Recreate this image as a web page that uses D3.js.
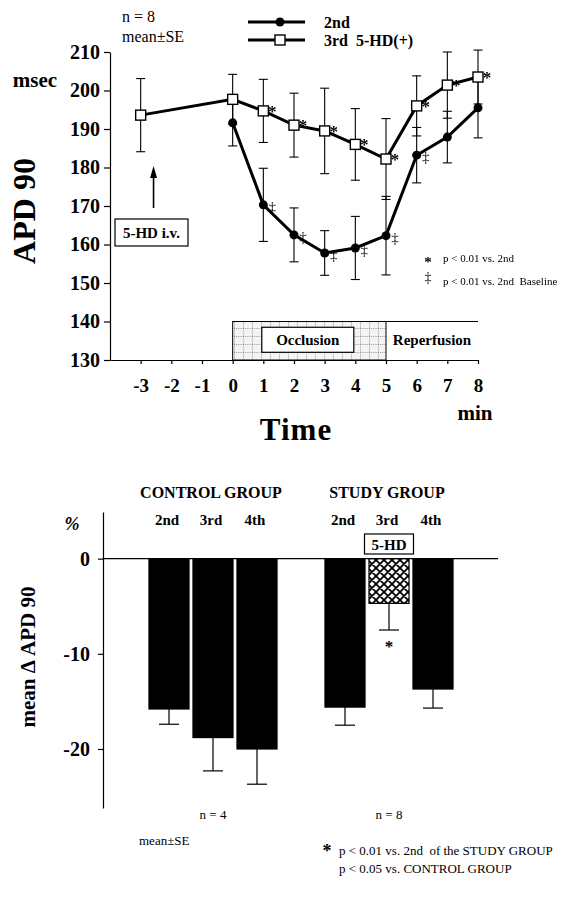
<!DOCTYPE html>
<html>
<head>
<meta charset="utf-8">
<script src="https://cdn.jsdelivr.net/npm/d3@7"></script>
<style>
  html, body { margin: 0; padding: 0; background: #fff; }
  svg { display: block; }
  text { font-family: "Liberation Serif", "Times New Roman", serif; fill: #000; }
  .gray { opacity: 0.999; will-change: transform; }
</style>
</head>
<body>
<div id="chart"></div>
<script>
// ---------------- DATA ----------------
// Top chart: APD 90 (msec) vs time (min)
const xTicks = [-3, -2, -1, 0, 1, 2, 3, 4, 5, 6, 7, 8];
const yTicksTop = [130, 140, 150, 160, 170, 180, 190, 200, 210];
const times2nd = [0, 1, 2, 3, 4, 5, 6, 7, 8];
const apd2nd = [191.6, 170.3, 162.5, 157.8, 159.1, 162.3, 183.2, 187.9, 195.5];
const se2nd = [6.0, 9.5, 7.0, 5.8, 8.2, 10.2, 7.2, 6.7, 7.8];
const sigBaseline2nd = [false, true, true, true, true, true, true, false, false]; // ‡
const times3rd = [-3, 0, 1, 2, 3, 4, 5, 6, 7, 8];
const apd3rd = [193.6, 197.7, 194.7, 191.0, 189.5, 186.0, 182.2, 196.0, 201.4, 203.5];
const se3rd = [9.5, 6.5, 8.2, 8.3, 11.1, 9.3, 10.5, 7.8, 8.6, 7.0];
const sigVs2nd3rd = [false, false, true, true, true, true, true, true, true, true]; // *
const seriesNames = ["2nd", "3rd  5-HD(+)"];

// Bottom chart: mean delta APD 90 (%)
const barKeys = ["c2", "c3", "c4", "gap", "s2", "s3", "s4"];
const barGroupsNames = ["CONTROL GROUP", "STUDY GROUP"];
const barLabels = ["2nd", "3rd", "4th", "", "2nd", "3rd", "4th"];
const barValues = [-15.8, -18.8, -20.0, null, -15.6, -4.7, -13.7];
const barSE = [1.6, 3.5, 3.7, null, 1.9, 2.8, 2.0];
const barHatched = [false, false, false, false, false, true, false];
const yTicksBottom = [0, -10, -20];
const groupN = ["n = 4", "n = 8"];

// ---------------- DRAW ----------------
const W = 571, H = 904;
const svg = d3.select("#chart").append("svg").attr("width", W).attr("height", H);

const defs = svg.append("defs");
const pg = defs.append("pattern").attr("id", "dotgrid").attr("patternUnits", "userSpaceOnUse")
  .attr("width", 9).attr("height", 8);
pg.append("rect").attr("width", 9).attr("height", 8).attr("fill", "#f4f4f4");
pg.append("path").attr("d", "M0,0.5 H9 M0.5,0 V8").attr("stroke", "#777")
  .attr("stroke-width", 0.8).attr("stroke-dasharray", "1,1.2");
const ph = defs.append("pattern").attr("id", "xhatch").attr("patternUnits", "userSpaceOnUse")
  .attr("width", 8).attr("height", 8);
ph.append("rect").attr("width", 8).attr("height", 8).attr("fill", "#fff");
ph.append("path")
  .attr("d", "M-2,2 L2,-2 M0,8 L8,0 M6,10 L10,6 M-2,6 L2,10 M0,0 L8,8 M6,-2 L10,2")
  .attr("stroke", "#000").attr("stroke-width", 1.8);

// ===== TOP CHART =====
const x = d3.scaleLinear().domain([-4, 8]).range([110, 478]);
const y = d3.scaleLinear().domain([130, 210]).range([360, 52]);

svg.append("rect").attr("x", x(0)).attr("y", y(140)).attr("width", x(5) - x(0)).attr("height", y(130) - y(140))
  .attr("fill", "url(#dotgrid)").attr("stroke", "#000").attr("stroke-width", 1);
svg.append("line").attr("x1", x(5)).attr("x2", x(8)).attr("y1", y(140)).attr("y2", y(140))
  .attr("stroke", "#000").attr("stroke-width", 1.2);
svg.append("rect").attr("x", x(0.95)).attr("y", y(138.5)).attr("width", x(3.95) - x(0.95)).attr("height", y(132) - y(138.5))
  .attr("fill", "#fff").attr("stroke", "#000").attr("stroke-width", 1.2);
svg.append("text").attr("x", x(2.45)).attr("y", y(135.2)).attr("text-anchor", "middle")
  .attr("dominant-baseline", "central").attr("font-weight", "bold").attr("font-size", 15).text("Occlusion");
svg.append("text").attr("x", x(6.5)).attr("y", y(135.2)).attr("text-anchor", "middle")
  .attr("dominant-baseline", "central").attr("font-weight", "bold").attr("font-size", 15).text("Reperfusion");

const yAxTop = svg.append("g").attr("transform", `translate(${x(-4)},0)`)
  .call(d3.axisLeft(y).tickValues(yTicksTop).tickSize(6).tickSizeOuter(0).tickPadding(4).tickFormat(d3.format("d")));
yAxTop.selectAll("text").attr("font-size", 20).attr("font-weight", "bold")
  .attr("font-family", "Liberation Serif, serif").attr("fill", "#000");
yAxTop.selectAll("line,path").attr("stroke", "#000").attr("stroke-width", 1.2);

const xAxTop = svg.append("g").attr("transform", `translate(0,${y(130)})`)
  .call(d3.axisBottom(x).tickValues(xTicks).tickSize(4).tickSizeOuter(0).tickPadding(15).tickFormat(d3.format("d")));
xAxTop.selectAll("text").attr("font-size", 19).attr("font-weight", "bold")
  .attr("font-family", "Liberation Serif, serif").attr("fill", "#000").text(d => d < 0 ? "-" + Math.abs(d) : d);
xAxTop.selectAll("line,path").attr("stroke", "#000").attr("stroke-width", 1.2);

svg.append("text").attr("x", 35).attr("y", 87).attr("text-anchor", "middle").attr("font-weight", "bold")
  .attr("font-size", 21).text("msec");
svg.append("text").attr("transform", `translate(24,${211}) rotate(-90)`).attr("text-anchor", "middle")
  .attr("dominant-baseline", "central").attr("font-weight", "bold").attr("font-size", 32).text("APD 90");
svg.append("text").attr("x", 296).attr("y", 440).attr("text-anchor", "middle").attr("font-weight", "bold")
  .attr("font-size", 31).attr("letter-spacing", 1).text("Time");
svg.append("text").attr("x", 475).attr("y", 420).attr("text-anchor", "middle").attr("font-weight", "bold")
  .attr("font-size", 21).text("min");

svg.append("text").attr("x", 122).attr("y", 22).attr("font-size", 16).text("n = 8");
svg.append("text").attr("x", 122).attr("y", 42).attr("font-size", 16).text("mean±SE");

const arrowX = x(-2.58);
svg.append("line").attr("x1", arrowX).attr("x2", arrowX).attr("y1", 208).attr("y2", 176)
  .attr("stroke", "#000").attr("stroke-width", 1.6);
svg.append("path").attr("d", `M${arrowX},166 L${arrowX - 3.5},178 L${arrowX + 3.5},178 Z`).attr("fill", "#000");
svg.append("rect").attr("x", 115).attr("y", 219).attr("width", 73).attr("height", 27)
  .attr("fill", "#fff").attr("stroke", "#000").attr("stroke-width", 1.2);
svg.append("text").attr("x", 151.5).attr("y", 233).attr("text-anchor", "middle").attr("dominant-baseline", "central")
  .attr("font-weight", "bold").attr("font-size", 15).text("5-HD i.v.");

const d2 = times2nd.map((t, i) => ({ t, v: apd2nd[i], se: se2nd[i], sig: sigBaseline2nd[i] }));
const d3r = times3rd.map((t, i) => ({ t, v: apd3rd[i], se: se3rd[i], sig: sigVs2nd3rd[i] }));
const line = d3.line().x(d => x(d.t)).y(d => y(d.v));

function errorBars(data) {
  const g = svg.append("g").attr("stroke", "#000").attr("stroke-width", 1.1);
  data.forEach(d => {
    const cx = x(d.t);
    g.append("line").attr("x1", cx).attr("x2", cx).attr("y1", y(d.v - d.se)).attr("y2", y(d.v + d.se));
    g.append("line").attr("x1", cx - 4.5).attr("x2", cx + 4.5).attr("y1", y(d.v - d.se)).attr("y2", y(d.v - d.se));
    g.append("line").attr("x1", cx - 4.5).attr("x2", cx + 4.5).attr("y1", y(d.v + d.se)).attr("y2", y(d.v + d.se));
  });
}
errorBars(d3r);
errorBars(d2);

svg.append("path").datum(d2).attr("d", line).attr("fill", "none").attr("stroke", "#000").attr("stroke-width", 3);
svg.append("path").datum(d3r).attr("d", line).attr("fill", "none").attr("stroke", "#000").attr("stroke-width", 3);

svg.selectAll(".dot2").data(d2).enter().append("circle")
  .attr("cx", d => x(d.t)).attr("cy", d => y(d.v)).attr("r", 4.5).attr("fill", "#000");
svg.selectAll(".sq3").data(d3r).enter().append("rect")
  .attr("x", d => x(d.t) - 5).attr("y", d => y(d.v) - 5).attr("width", 10).attr("height", 10)
  .attr("fill", "#fff").attr("stroke", "#000").attr("stroke-width", 1.4);

const sigG = svg.append("g").attr("class", "gray");
sigG.selectAll(".star3").data(d3r.filter(d => d.sig)).enter().append("text")
  .attr("x", d => x(d.t) + 9).attr("y", d => y(d.v) + 6).attr("text-anchor", "middle")
  .attr("font-size", 17).attr("font-weight", "bold").text("*");
sigG.selectAll(".dag2").data(d2.filter(d => d.sig)).enter().append("text")
  .attr("x", d => x(d.t) + 9).attr("y", d => y(d.v) + 7).attr("text-anchor", "middle")
  .attr("font-size", 15).text("‡");

const legY = [22, 40];
[0, 1].forEach(i => {
  svg.append("line").attr("x1", 248).attr("x2", 305).attr("y1", legY[i]).attr("y2", legY[i])
    .attr("stroke", "#000").attr("stroke-width", 3);
  if (i === 0) svg.append("circle").attr("cx", 280).attr("cy", legY[i]).attr("r", 4.5).attr("fill", "#000");
  else svg.append("rect").attr("x", 275).attr("y", legY[i] - 5).attr("width", 10).attr("height", 10)
    .attr("fill", "#fff").attr("stroke", "#000").attr("stroke-width", 1.4);
  svg.append("text").attr("x", 324).attr("y", legY[i] + 6).attr("font-weight", "bold").attr("font-size", 16)
    .attr("xml:space", "preserve").text(seriesNames[i]);
});

const sigL = svg.append("g").attr("class", "gray");
sigL.append("text").attr("x", 428).attr("y", 267).attr("text-anchor", "middle").attr("font-size", 15).attr("font-weight", "bold").text("*");
sigL.append("text").attr("x", 443).attr("y", 262).attr("font-size", 11).text("p < 0.01 vs. 2nd");
sigL.append("text").attr("x", 428).attr("y", 282).attr("text-anchor", "middle").attr("font-size", 14).text("‡");
sigL.append("text").attr("x", 443).attr("y", 285).attr("font-size", 11).attr("xml:space", "preserve").text("p < 0.01 vs. 2nd  Baseline");

// ===== BOTTOM CHART =====
const xb = d3.scaleBand().domain(barKeys).range([147, 455]).paddingInner(0.09).paddingOuter(0.045);
const yb = d3.scaleLinear().domain([-26.2, 4.9]).range([808, 512]);

const yAxB = svg.append("g").attr("transform", `translate(103,0)`)
  .call(d3.axisLeft(yb).tickValues(yTicksBottom).tickSize(5).tickSizeOuter(0).tickPadding(8).tickFormat(d3.format("d")));
yAxB.selectAll("text").attr("font-size", 20).attr("font-weight", "bold")
  .attr("font-family", "Liberation Serif, serif").attr("fill", "#000").text(d => d < 0 ? "-" + Math.abs(d) : d);
yAxB.selectAll("line,path").attr("stroke", "#000").attr("stroke-width", 1.2);

const barData = barKeys.map((k, i) => ({ k, v: barValues[i], se: barSE[i], hatch: barHatched[i], label: barLabels[i] }))
  .filter(d => d.v !== null);

svg.selectAll(".bar").data(barData).enter().append("rect")
  .attr("x", d => xb(d.k)).attr("width", xb.bandwidth())
  .attr("y", yb(0)).attr("height", d => yb(d.v) - yb(0))
  .attr("fill", d => d.hatch ? "url(#xhatch)" : "#000").attr("stroke", "#000").attr("stroke-width", 1.2);

const eb = svg.append("g").attr("stroke", "#000").attr("stroke-width", 1.2);
barData.forEach(d => {
  const cx = xb(d.k) + xb.bandwidth() / 2;
  eb.append("line").attr("x1", cx).attr("x2", cx).attr("y1", yb(d.v)).attr("y2", yb(d.v - d.se));
  eb.append("line").attr("x1", cx - 10).attr("x2", cx + 10).attr("y1", yb(d.v - d.se)).attr("y2", yb(d.v - d.se));
});

svg.append("line").attr("x1", 103).attr("x2", 498).attr("y1", yb(0)).attr("y2", yb(0))
  .attr("stroke", "#000").attr("stroke-width", 1.2);

barData.forEach(d => {
  svg.append("text").attr("x", xb(d.k) + xb.bandwidth() / 2 - 2).attr("y", 525).attr("text-anchor", "middle")
    .attr("font-weight", "bold").attr("font-size", 15).text(d.label);
});
const groupCenters = ["c3", "s3"].map(k => xb(k) + xb.bandwidth() / 2);
groupCenters.forEach((c, i) => {
  svg.append("text").attr("x", c - 2).attr("y", 498).attr("text-anchor", "middle")
    .attr("font-weight", "bold").attr("font-size", 16).text(barGroupsNames[i]);
  svg.append("text").attr("x", c).attr("y", 819).attr("text-anchor", "middle")
    .attr("font-size", 13).text(groupN[i]);
});

const hx = xb("s3") + xb.bandwidth() / 2;
svg.append("rect").attr("x", hx - 24.5).attr("y", 534).attr("width", 49).attr("height", 20)
  .attr("fill", "#fff").attr("stroke", "#000").attr("stroke-width", 1.2);
svg.append("text").attr("x", hx).attr("y", 544.5).attr("text-anchor", "middle").attr("dominant-baseline", "central")
  .attr("font-weight", "bold").attr("font-size", 15).text("5-HD");
const hd = barData.find(d => d.hatch);
svg.append("text").attr("x", hx).attr("y", yb(hd.v - hd.se) + 22).attr("text-anchor", "middle")
  .attr("font-size", 17).attr("font-weight", "bold").text("*");

svg.append("text").attr("x", 72).attr("y", 530).attr("text-anchor", "middle").attr("font-weight", "bold")
  .attr("font-style", "italic").attr("font-size", 18).text("%");
svg.append("text").attr("transform", `translate(28,657) rotate(-90)`).attr("text-anchor", "middle")
  .attr("dominant-baseline", "central").attr("font-weight", "bold").attr("font-size", 21).text("mean Δ APD 90");

svg.append("text").attr("x", 139).attr("y", 845).attr("font-size", 13).text("mean±SE");
svg.append("text").attr("x", 327).attr("y", 857).attr("text-anchor", "middle").attr("font-size", 18).attr("font-weight", "bold").text("*");
svg.append("text").attr("x", 339).attr("y", 855).attr("font-size", 13).attr("xml:space", "preserve").text("p < 0.01 vs. 2nd  of the STUDY GROUP");
svg.append("text").attr("x", 339).attr("y", 873).attr("font-size", 13).text("p < 0.05 vs. CONTROL GROUP");
</script>
</body>
</html>
